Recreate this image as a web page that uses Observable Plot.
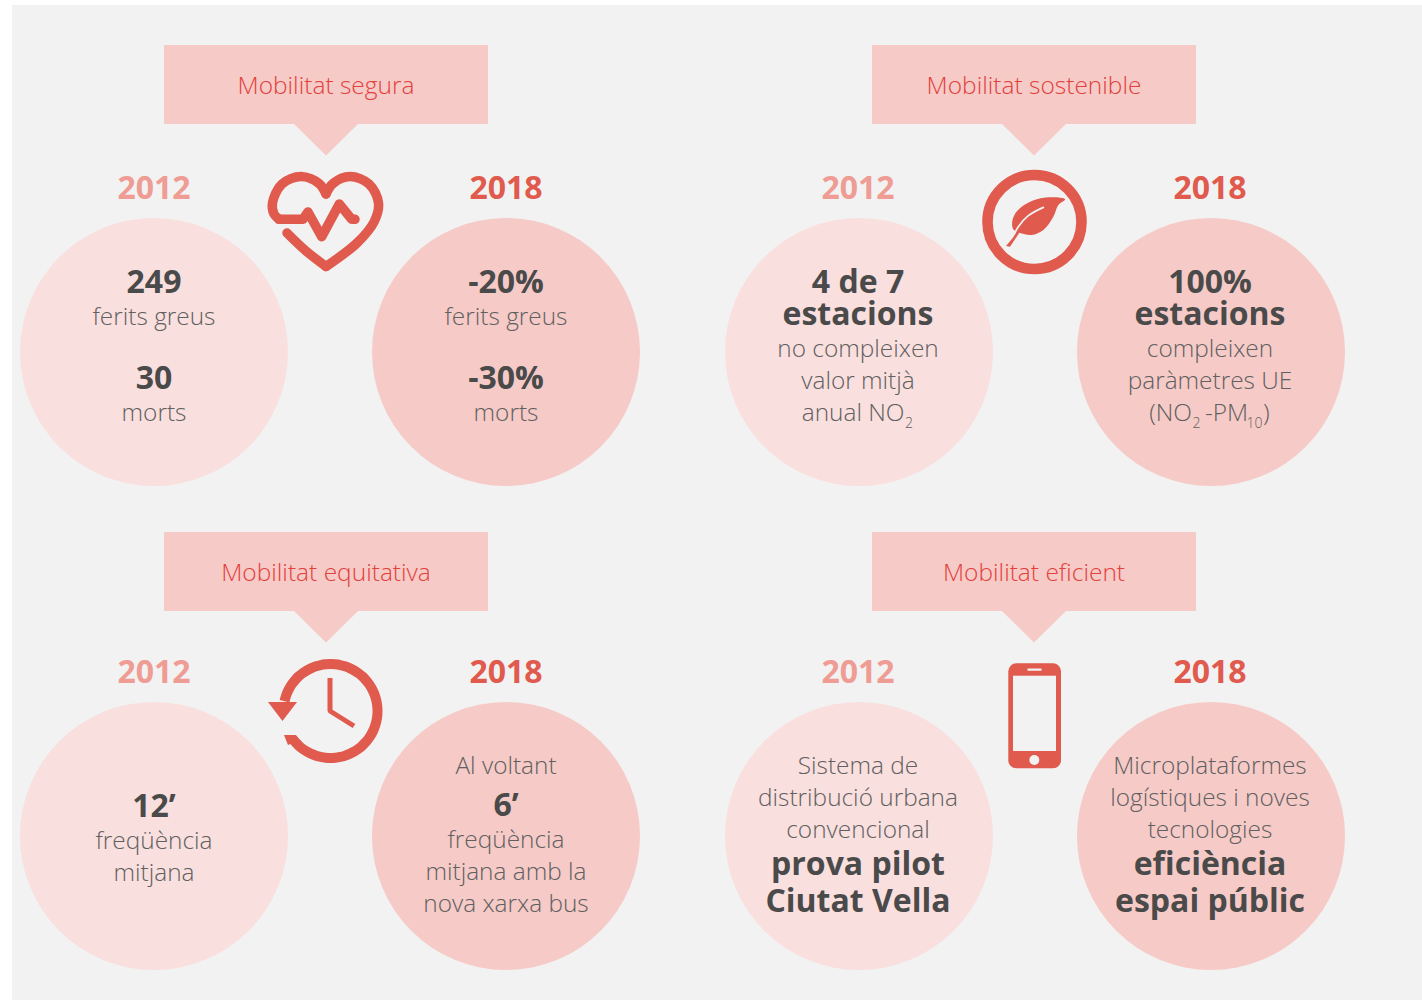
<!DOCTYPE html>
<html>
<head>
<meta charset="utf-8">
<script src="https://cdn.jsdelivr.net/npm/d3@7"></script>
<script src="https://cdn.jsdelivr.net/npm/@observablehq/plot@0.6"></script>
<style>html,body{margin:0;padding:0;background:#fff}svg{display:block;background:#fff!important}</style>
</head>
<body>
<div id="chart"></div>
<script>
// ---- content ----
const titles = ["Mobilitat segura", "Mobilitat sostenible", "Mobilitat equitativa", "Mobilitat eficient"];
const years = ["2012", "2018"];
const segura2012 = ["249", "ferits greus", "30", "morts"];
const segura2018 = ["-20%", "ferits greus", "-30%", "morts"];
const sostenible2012 = ["4 de 7", "estacions", "no compleixen", "valor mitjà"];
const sostenible2018 = ["100%", "estacions", "compleixen", "paràmetres UE"];
const equitativa2012 = ["12’", "freqüència", "mitjana"];
const equitativa2018 = ["Al voltant", "6’", "freqüència", "mitjana amb la", "nova xarxa bus"];
const eficient2012 = ["Sistema de", "distribució urbana", "convencional", "prova pilot", "Ciutat Vella"];
const eficient2018 = ["Microplataformes", "logístiques i noves", "tecnologies", "eficiència", "espai públic"];

// ---- layout ----
const COL = {bg:"#f2f2f2", light:"#f9dfde", mid:"#f6cac7", red:"#e05a4e", soft:"#ee9c94", title:"#e2403a", dark:"#4a4a4a", thin:"#606060"};
const FONT = "Open Sans";
const colX = [[154, 506], [858, 1210]];
const circleY = [352, 836];
const circleCx = [[154, 506], [859, 1211]];
const bannerX = [[164, 488], [872, 1196]];
const bannerY = [[45, 124], [532, 611]];

const blocks = [
  {lines: segura2012, c:0, s:0, r:0, ys:[293,325,389,421], bold:[0,2]},
  {lines: segura2018, c:0, s:1, r:0, ys:[293,325,389,421], bold:[0,2]},
  {lines: sostenible2012, c:1, s:0, r:0, ys:[293,325,357,389], bold:[0,1]},
  {lines: sostenible2018, c:1, s:1, r:0, ys:[293,325,357,389], bold:[0,1]},
  {lines: equitativa2012, c:0, s:0, r:1, ys:[817,849,881], bold:[0]},
  {lines: equitativa2018, c:0, s:1, r:1, ys:[774,816,848,880,912], bold:[1]},
  {lines: eficient2012, c:1, s:0, r:1, ys:[774,806,838,875,912], bold:[3,4]},
  {lines: eficient2018, c:1, s:1, r:1, ys:[774,806,838,875,912], bold:[3,4]}
];
const textRows = blocks.flatMap(b => b.lines.map((t,i) => ({t, x: colX[b.c][b.s], y: b.ys[i], bold: b.bold.includes(i)})));
const piecesEnd = [{t:"anual NO", x:904.5, y:421}, {t:"(NO", x:1192, y:421}];
const piecesStart = [{t:"-PM", x:1205, y:421}, {t:")", x:1263, y:421}];
const pieceSubs = [{t:"2", x:905, y:428}, {t:"2", x:1192.5, y:428}, {t:"10", x:1246.5, y:428}];

const banners = titles.map((t,i) => {
  const c = i % 2, r = i >> 1;
  return {t, x1:bannerX[c][0], x2:bannerX[c][1], y1:bannerY[r][0], y2:bannerY[r][1], cx:(bannerX[c][0]+bannerX[c][1])/2, cy:(bannerY[r][0]+bannerY[r][1])/2+10};
});
const triangles = banners.flatMap((b,i) => [
  {id:i, x:b.cx-32, y:b.y2}, {id:i, x:b.cx+32, y:b.y2}, {id:i, x:b.cx, y:b.y2+31.5}
]);
const circles = blocks.map(b => ({x:circleCx[b.c][b.s], y:circleY[b.r], f:b.s?COL.mid:COL.light}));
const yearRows = blocks.map(b => ({t:years[b.s], x:colX[b.c][b.s], y:b.r?683:199, f:b.s?COL.red:COL.soft}));

// ---- icons: outline points ----
const P = (id, pts) => pts.map(([x,y]) => ({id, x, y}));
const heartSmooth = [
  ...P("a", [[326,194],[333,183.5],[350,176.5],[369,184],[378.5,203],[374,222],[357,243],[326,266.5]]),
  ...P("b", [[326,194],[319,183.5],[301,176.5],[282,184],[272.5,203],[274,214],[279,219.3]]),
  ...P("c", [[326,266.5],[306,251],[287,233]])
];
const heartPulse = P("d", [[279,219.3],[303,219.3],[308,212],[321.7,236.7],[339.3,204],[351.7,219.3],[355,219.3]]);

const zoomLeaf = ([a,b]) => [960+a/3, 150+b/3];
const leaf = P("leaf", [[315,148],[270,142],[215,153],[172,182],[157,212],[160,238],[175,247],[215,255],[250,240],[280,200],[295,165]].map(zoomLeaf));
const stem = P("stem", [[170,242],[160,262],[138,288],[150,290],[165,268],[180,245]].map(zoomLeaf));
const vein = P("vein", [[250,172],[205,197],[175,230],[163,252]].map(zoomLeaf));

const clockR = 47, clockX = 330.5, clockY = 711;
const clockRing = P("ring", d3.range(192, 360+150, 6).map(a => [clockX + clockR*Math.cos(a*Math.PI/180), clockY + clockR*Math.sin(a*Math.PI/180)]));
const clockEnd = P("end", [[284,735],[295.6,735],[299,740],[288,745]]);
const clockHead = P("head", [[268,702],[297,702],[282.5,721]]);
const clockHands = P("hands", [[330,678],[330,711],[354,726]]);

const T = {lineAnchor:"bottom", fontFamily:FONT, dx:-0.5, dy:-1};
const L = {dx:-0.5, dy:-0.5};

const chart = Plot.plot({
  width:1422, height:1000, margin:0,
  x:{domain:[0,1422], range:[0,1422], axis:null},
  y:{domain:[0,1000], range:[0,1000], axis:null},
  style:{fontFamily:FONT, background:"#fff"},
  marks:[
    Plot.rect([{}], {x1:()=>12, x2:()=>1422, y1:()=>5, y2:()=>1000, fill:COL.bg}),
    Plot.rect(banners, {x1:"x1", x2:"x2", y1:"y1", y2:"y2", fill:COL.mid}),
    Plot.line(triangles, {x:"x", y:"y", z:"id", fill:COL.mid, stroke:"none", ...L}),
    Plot.dot(circles, {x:"x", y:"y", r:134, fill:"f", stroke:"none", ...L}),
    Plot.text(banners, {x:"cx", y:"cy", text:"t", fill:COL.title, fontSize:24.5, fontWeight:300, ...T}),
    Plot.text(yearRows, {x:"x", y:"y", text:"t", fill:"f", fontSize:32, fontWeight:700, ...T}),
    Plot.text(textRows.filter(d=>d.bold), {x:"x", y:"y", text:"t", fill:COL.dark, fontSize:32, fontWeight:700, ...T}),
    Plot.text(textRows.filter(d=>!d.bold), {x:"x", y:"y", text:"t", fill:COL.thin, fontSize:24.4, fontWeight:300, ...T}),
    Plot.text(piecesEnd, {x:"x", y:"y", text:"t", textAnchor:"end", fill:COL.thin, fontSize:24.4, fontWeight:300, ...T}),
    Plot.text(piecesStart, {x:"x", y:"y", text:"t", textAnchor:"start", fill:COL.thin, fontSize:24.4, fontWeight:300, ...T}),
    Plot.text(pieceSubs, {x:"x", y:"y", text:"t", textAnchor:"start", fill:COL.thin, fontSize:14, fontWeight:300, ...T}),
    // heart
    Plot.line(heartSmooth, {x:"x", y:"y", z:"id", curve:"catmull-rom", stroke:COL.red, strokeWidth:9.5, strokeLinecap:"round", ...L}),
    Plot.line(heartPulse, {x:"x", y:"y", z:"id", stroke:COL.red, strokeWidth:9.5, strokeLinecap:"round", strokeLinejoin:"round", ...L}),
    // leaf
    Plot.dot([{x:1034.5, y:222}], {x:"x", y:"y", r:47, stroke:COL.red, strokeWidth:10.6, fill:"none", ...L}),
    Plot.line(leaf, {x:"x", y:"y", curve:"catmull-rom-closed", fill:COL.red, stroke:"none", ...L}),
    Plot.line(stem, {x:"x", y:"y", fill:COL.red, stroke:"none", curve:"linear", ...L}),
    Plot.line(vein, {x:"x", y:"y", curve:"catmull-rom", stroke:COL.bg, strokeWidth:1.8, ...L}),
    // clock
    Plot.line(clockRing, {x:"x", y:"y", z:"id", curve:"catmull-rom", stroke:COL.red, strokeWidth:10, strokeLinecap:"butt", ...L}),
    Plot.line(clockEnd, {x:"x", y:"y", z:"id", fill:COL.red, stroke:"none", ...L}),
    Plot.line(clockHead, {x:"x", y:"y", z:"id", fill:COL.red, stroke:"none", ...L}),
    Plot.line(clockHands, {x:"x", y:"y", z:"id", stroke:COL.red, strokeWidth:5, strokeLinejoin:"miter", strokeLinecap:"butt", ...L}),
    // phone
    Plot.rect([{x1:1008.3, x2:1061, y1:663.3, y2:768.3}], {x1:"x1", x2:"x2", y1:"y1", y2:"y2", fill:COL.red, rx:8}),
    Plot.rect([{x1:1013, x2:1056, y1:675.7, y2:751}], {x1:"x1", x2:"x2", y1:"y1", y2:"y2", fill:COL.bg}),
    Plot.rect([{x1:1027.3, x2:1041.7, y1:668.5, y2:670.8}], {x1:"x1", x2:"x2", y1:"y1", y2:"y2", fill:COL.bg, rx:1}),
    Plot.dot([{x:1034.3, y:760}], {x:"x", y:"y", r:5, fill:COL.bg, stroke:"none", ...L})
  ]
});
document.getElementById("chart").append(chart);
</script>
</body>
</html>
